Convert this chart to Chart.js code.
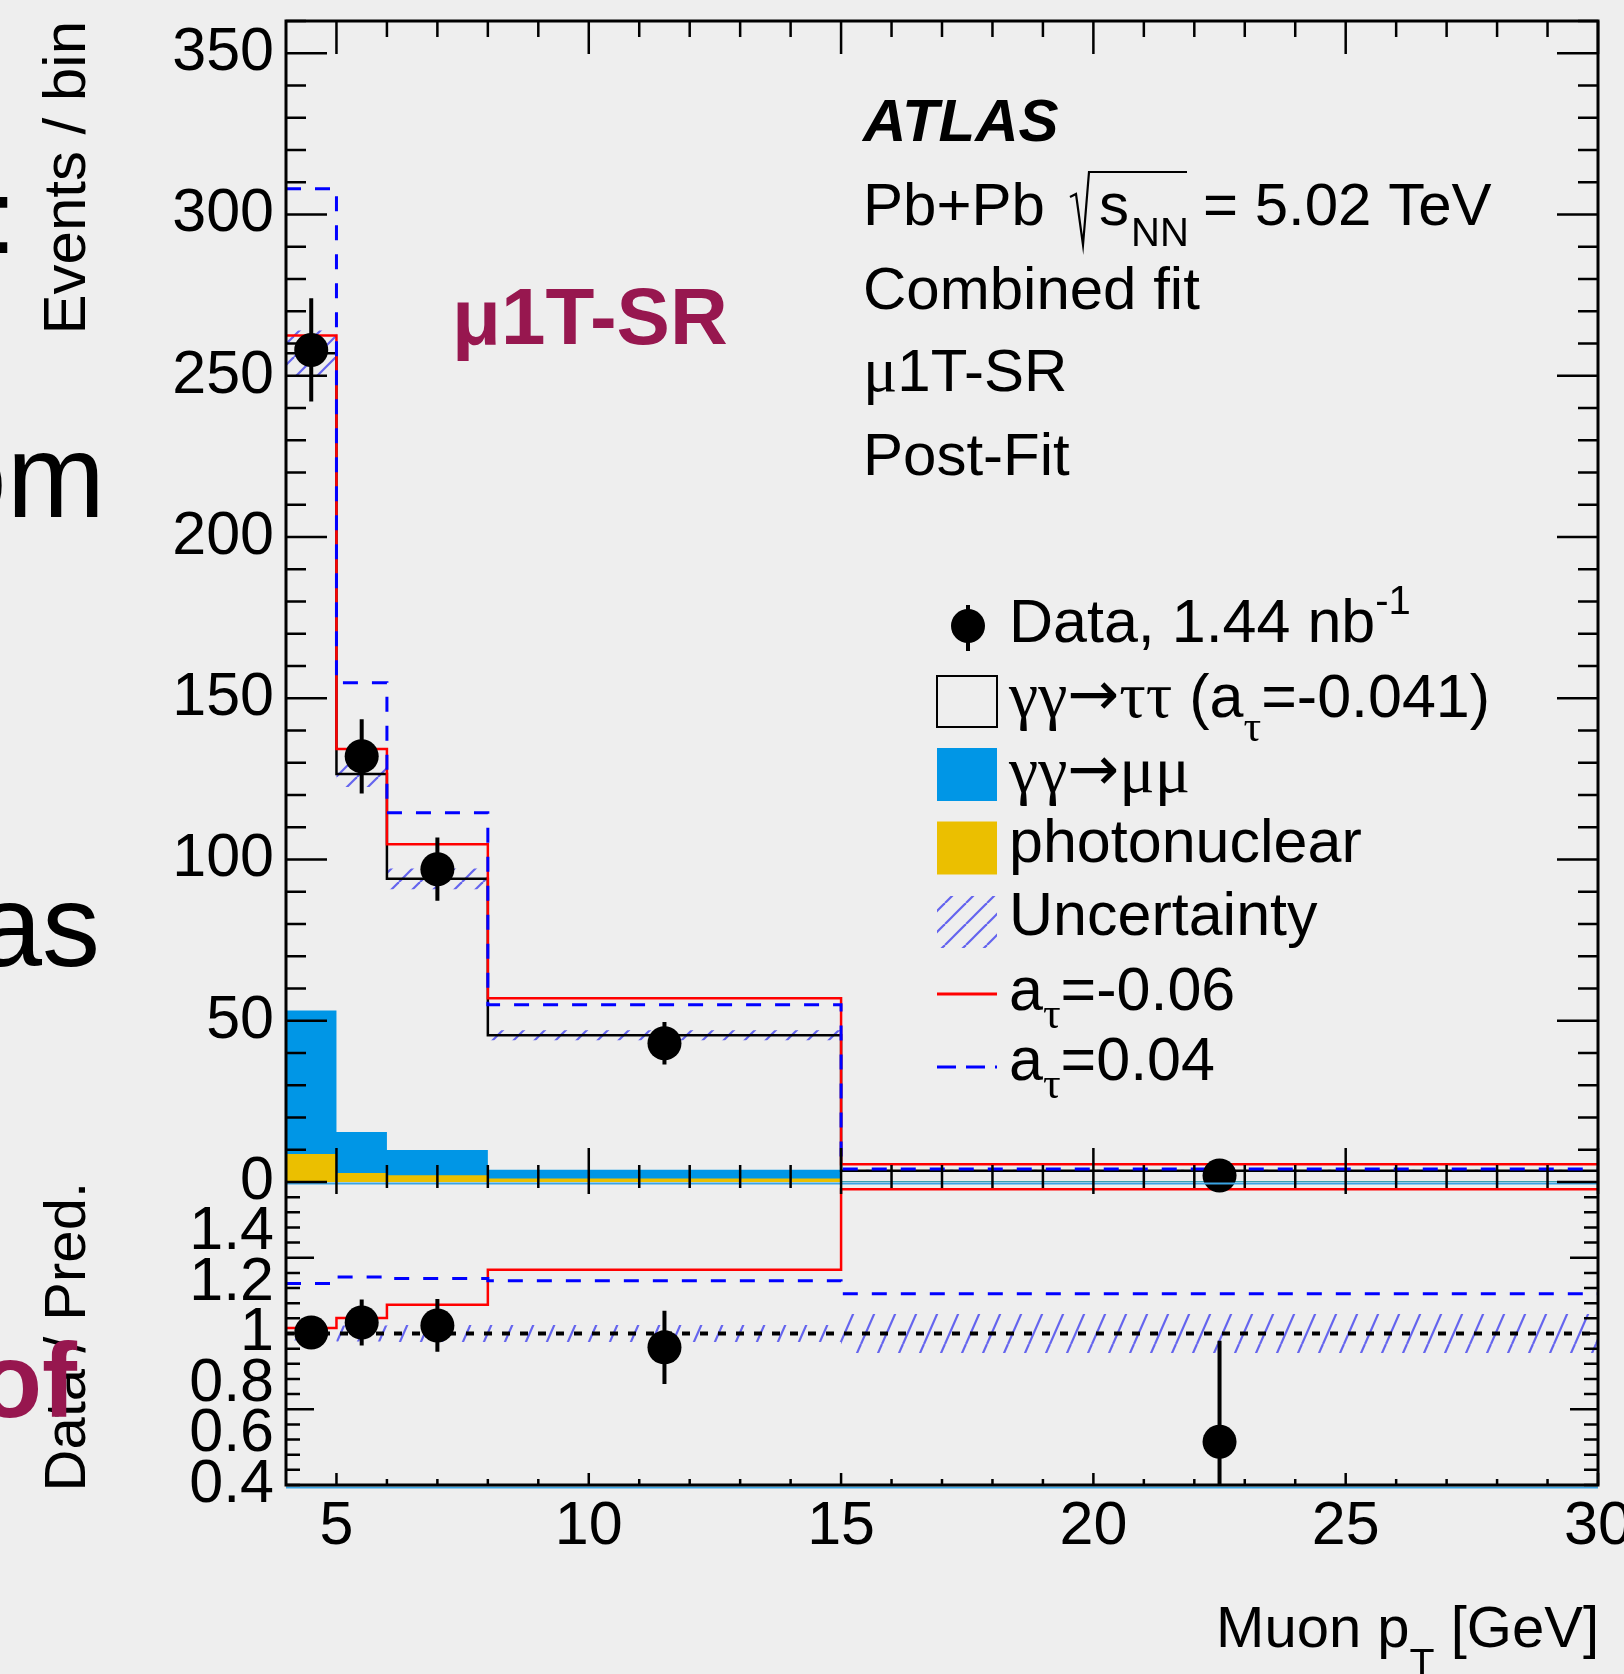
<!DOCTYPE html>
<html>
<head>
<meta charset="utf-8">
<script src="https://cdn.jsdelivr.net/npm/chart.js@4.4.0/dist/chart.umd.min.js"></script>
<style>
  html, body { margin: 0; padding: 0; background: #eeeeee; }
  #wrap { position: relative; width: 1624px; height: 1674px; overflow: hidden; }
  canvas { display: block; }
</style>
</head>
<body>
<div id="wrap"><canvas id="chart" width="1624" height="1674"></canvas></div>
<script>
// bins in muon pT [GeV]
const binEdges = [4, 5, 6, 8, 15, 30];
const dataCounts = [258, 132, 97, 43, 2];
const dataErrors = [16, 11.5, 9.8, 6.6, 1.4];
// total post-fit prediction (gg->tautau with a_tau=-0.041 stacked on backgrounds)
const predTotal = [257, 126.5, 94, 45.5, 3.5];
const predUnc = [7, 4, 3.2, 1.55, 0.27];
const mumu = [44.5, 12.7, 7.8, 2.7, 0.2];
const photonuclear = [8.7, 2.8, 2.1, 1.1, 0.1];
const aTauNeg = [262.5, 134.3, 104.7, 57.0, 5.5]; // a_tau = -0.06
const aTauPos = [308, 154.8, 114.5, 55.0, 4.05];  // a_tau = 0.04
const xTicks = [5, 10, 15, 20, 25, 30];
const yTicks = [0, 50, 100, 150, 200, 250, 300, 350];
const ratioTicks = [0.4, 0.6, 0.8, 1, 1.2, 1.4];

const SANS = '"Liberation Sans", Arial, Helvetica, sans-serif';
const SERIF = '"Liberation Serif", "DejaVu Serif", serif';
const ARROW = '"DejaVu Sans", sans-serif';
const HATCH = '#6464ee';

const step = (vals) => binEdges.map((e, i) => ({ x: e, y: vals[Math.min(i, vals.length - 1)] }));
const centers = binEdges.slice(0, -1).map((e, i) => (e + binEdges[i + 1]) / 2);
const ratio = (vals) => vals.map((v, i) => v / predTotal[i]);
const bkgSum = mumu.map((v, i) => v + photonuclear[i]);

const canvas = document.getElementById('chart');
const mainCtx = canvas.getContext('2d');

function hatch(w, h) {
  const c = document.createElement('canvas');
  c.width = w;
  c.height = h;
  const g = c.getContext('2d');
  g.strokeStyle = HATCH;
  g.lineWidth = 2.2;
  for (const off of [-w, 0, w]) {
    g.beginPath();
    g.moveTo(off, h);
    g.lineTo(off + w, 0);
    g.stroke();
  }
  return mainCtx.createPattern(c, 'repeat');
}
const hatchTop = hatch(21, 21);
const hatchRatio = hatch(21, 48);

function line(data, opts) {
  return Object.assign({ data, stepped: true, pointRadius: 0, borderWidth: 2.5, fill: false, yAxisID: 'y' }, opts);
}
const hidden = { borderColor: 'transparent', borderWidth: 0 };

const datasets = [
  line(step(bkgSum), { ...hidden, backgroundColor: '#0096e6', fill: 'origin', order: 20 }),
  line(step(photonuclear), { ...hidden, backgroundColor: '#ebbf00', fill: 'origin', order: 19 }),
  line(step(predTotal.map((v, i) => v + predUnc[i])), { ...hidden, order: 15 }),
  line(step(predTotal.map((v, i) => v - predUnc[i])), { ...hidden, backgroundColor: hatchTop, fill: '-1', order: 14 }),
  line(step(predTotal), { borderColor: '#000000', order: 10 }),
  line(step(aTauNeg), { borderColor: '#ff0000', order: 9 }),
  line(step(aTauPos), { borderColor: '#0000ff', borderWidth: 3, borderDash: [15, 14], order: 8 }),
  {
    data: centers.map((x, i) => ({ x, y: dataCounts[i] })), yAxisID: 'y', showLine: false, clip: false,
    pointRadius: 17, pointBackgroundColor: '#000', pointBorderWidth: 0, order: 0,
  },
  // ratio pad
  line(step(predUnc.map((u, i) => 1 + u / predTotal[i])), { ...hidden, yAxisID: 'y2', order: 15 }),
  line(step(predUnc.map((u, i) => 1 - u / predTotal[i])), { ...hidden, yAxisID: 'y2', backgroundColor: hatchRatio, fill: '-1', order: 14 }),
  line([{ x: 4, y: 1 }, { x: 30, y: 1 }], { yAxisID: 'y2', stepped: false, borderColor: '#000', borderWidth: 4, borderDash: [8, 10], order: 7 }),
  line(step(ratio(aTauNeg)), { yAxisID: 'y2', borderColor: '#ff0000', order: 6 }),
  line(step(ratio(aTauPos)), { yAxisID: 'y2', borderColor: '#0000ff', borderWidth: 3, borderDash: [15, 14], order: 5 }),
  {
    data: centers.map((x, i) => ({ x, y: dataCounts[i] / predTotal[i] })), yAxisID: 'y2', showLine: false, clip: false,
    pointRadius: 17, pointBackgroundColor: '#000', pointBorderWidth: 0, order: 0,
  },
];

function T(t, o = {}) {
  return { t, s: o.s || 61, f: o.f || SANS, dy: o.dy || 0, w: o.w || '' };
}
function G(t, o = {}) {
  return T(t, Object.assign({ f: SERIF, s: 66 }, o));
}
const ARR = () => T('→', { f: ARROW, s: 62, dy: -2 });
function runs(ctx, x, y, parts, align) {
  const fontOf = (p) => `${p.w} ${p.s}px ${p.f}`;
  let w = 0;
  for (const p of parts) {
    ctx.font = fontOf(p);
    w += ctx.measureText(p.t).width;
  }
  let cx = align === 'right' ? x - w : x;
  ctx.textAlign = 'left';
  ctx.textBaseline = 'alphabetic';
  for (const p of parts) {
    ctx.font = fontOf(p);
    ctx.fillText(p.t, cx, y + p.dy);
    cx += ctx.measureText(p.t).width;
  }
}

const rootPad = {
  id: 'rootPad',
  afterDatasetsDraw(chart) {
    const { ctx, chartArea: a, scales } = chart;
    const { x, y, y2 } = scales;
    ctx.save();
    ctx.strokeStyle = '#000';
    ctx.lineWidth = 4;
    // error bars on data points
    ctx.beginPath();
    centers.forEach((c, i) => {
      const px = x.getPixelForValue(c);
      ctx.moveTo(px, y.getPixelForValue(dataCounts[i] + dataErrors[i]));
      ctx.lineTo(px, y.getPixelForValue(dataCounts[i] - dataErrors[i]));
    });
    ctx.stroke();
    ctx.save();
    ctx.beginPath();
    ctx.rect(a.left, y2.top, a.right - a.left, y2.bottom - y2.top);
    ctx.clip();
    ctx.beginPath();
    centers.forEach((c, i) => {
      const px = x.getPixelForValue(c);
      ctx.moveTo(px, y2.getPixelForValue((dataCounts[i] + dataErrors[i]) / predTotal[i]));
      ctx.lineTo(px, y2.getPixelForValue((dataCounts[i] - dataErrors[i]) / predTotal[i]));
    });
    ctx.stroke();
    ctx.restore();

    // light blue baselines
    ctx.strokeStyle = '#3aa4e4';
    ctx.lineWidth = 2;
    ctx.beginPath();
    ctx.moveTo(a.left, y.bottom + 1.5);
    ctx.lineTo(a.right, y.bottom + 1.5);
    ctx.moveTo(a.left, y2.bottom + 2.5);
    ctx.lineTo(a.right, y2.bottom + 2.5);
    ctx.stroke();

    // frame
    ctx.strokeStyle = '#000';
    ctx.lineWidth = 3;
    ctx.beginPath();
    ctx.moveTo(a.left, a.top);
    ctx.lineTo(a.right, a.top);
    ctx.lineTo(a.right, a.bottom);
    ctx.lineTo(a.left, a.bottom);
    ctx.closePath();
    ctx.stroke();

    // inward ticks
    ctx.lineWidth = 2.5;
    ctx.beginPath();
    const yTick = (scale, v, len) => {
      const p = scale.getPixelForValue(v);
      ctx.moveTo(a.left, p); ctx.lineTo(a.left + len, p);
      ctx.moveTo(a.right, p); ctx.lineTo(a.right - len, p);
    };
    for (let v = 0; v <= 360; v += 10) yTick(y, v, v % 50 === 0 ? 41 : 20);
    for (let k = 0; k <= 20; k++) {
      const v = 0.4 + 0.06 * k;
      yTick(y2, v, (k === 5 || k === 15) ? 28 : 14);
    }
    for (let v = 5; v <= 30; v += 1) {
      const p = x.getPixelForValue(v);
      const major = v % 5 === 0;
      ctx.moveTo(p, y.top); ctx.lineTo(p, y.top + (major ? 33 : 16));
      ctx.moveTo(p, y.bottom); ctx.lineTo(p, y.bottom - (major ? 34 : 17));
      ctx.moveTo(p, y2.top); ctx.lineTo(p, y2.top + (major ? 12 : 6));
      ctx.moveTo(p, y2.bottom); ctx.lineTo(p, y2.bottom - (major ? 12 : 6));
    }
    ctx.stroke();
    ctx.restore();
  },
  afterDraw(chart) {
    const { ctx, chartArea: a, scales: { y, y2 } } = chart;
    ctx.save();
    ctx.fillStyle = '#000';

    // axis titles
    ctx.save();
    ctx.translate(85, y.top);
    ctx.rotate(-Math.PI / 2);
    runs(ctx, 0, 0, [T('Events / bin', { s: 60 })], 'right');
    ctx.restore();
    ctx.save();
    ctx.translate(85, y2.top);
    ctx.rotate(-Math.PI / 2);
    runs(ctx, 0, 0, [T('Data / Pred.', { s: 58 })], 'right');
    ctx.restore();
    runs(ctx, a.right + 1, 1647, [T('Muon p', { s: 58 }), T('T', { s: 41, dy: 30 }), T(' [GeV]', { s: 58 })], 'right');

    // ATLAS label block
    runs(ctx, 863, 141, [T('ATLAS', { s: 60, w: 'italic bold' })]);
    runs(ctx, 863, 225, [T('Pb+Pb', { s: 60 })]);
    ctx.strokeStyle = '#000';
    ctx.lineWidth = 2.2;
    ctx.beginPath();
    ctx.moveTo(1070, 197);
    ctx.lineTo(1076, 194);
    ctx.lineTo(1083, 245);
    ctx.lineTo(1089, 172);
    ctx.lineTo(1187, 172);
    ctx.stroke();
    runs(ctx, 1099, 225, [T('s', { s: 60 })]);
    runs(ctx, 1131, 246, [T('NN', { s: 40 })]);
    runs(ctx, 1203, 225, [T('= 5.02 TeV', { s: 60 })]);
    runs(ctx, 863, 309, [T('Combined fit', { s: 60 })]);
    runs(ctx, 863, 391, [G('μ', { s: 64 }), T('1T-SR', { s: 60 })]);
    runs(ctx, 863, 475, [T('Post-Fit', { s: 60 })]);

    ctx.fillStyle = '#97174f';
    runs(ctx, 452, 344, [T('μ1T-SR', { s: 80, w: 'bold' })]);
    ctx.fillStyle = '#000';

    // legend
    const bx = 937, bw = 60, tx = 1009;
    const rows = [626, 701, 774, 847.5, 922, 994, 1067];
    // data
    ctx.beginPath();
    ctx.arc(bx + bw / 2 + 1, rows[0], 17, 0, Math.PI * 2);
    ctx.fill();
    ctx.lineWidth = 4;
    ctx.beginPath();
    ctx.moveTo(bx + bw / 2 + 1, rows[0] - 21);
    ctx.lineTo(bx + bw / 2 + 1, rows[0] + 25);
    ctx.stroke();
    runs(ctx, tx, rows[0] + 16, [T('Data, 1.44 nb'), T('-1', { s: 40, dy: -28 })]);
    // gg->tautau
    ctx.lineWidth = 2;
    ctx.strokeRect(bx, rows[1] - 25, bw, 51);
    runs(ctx, tx, rows[1] + 16, [G('γγ'), ARR(), G('ττ'), T(' (a'), G('τ', { s: 44, dy: 24 }), T('=-0.041)')]);
    // gg->mumu
    ctx.fillStyle = '#0096e6';
    ctx.fillRect(bx, rows[2] - 26, bw, 53);
    ctx.fillStyle = '#ebbf00';
    ctx.fillRect(bx, rows[3] - 26, bw, 53);
    ctx.fillStyle = hatchTop;
    ctx.fillRect(bx, rows[4] - 26, bw, 52);
    ctx.fillStyle = '#000';
    runs(ctx, tx, rows[2] + 18, [G('γγ'), ARR(), G('μμ')]);
    runs(ctx, tx, rows[3] + 14, [T('photonuclear')]);
    runs(ctx, tx, rows[4] + 13, [T('Uncertainty')]);
    ctx.lineWidth = 3;
    ctx.strokeStyle = '#ff0000';
    ctx.beginPath();
    ctx.moveTo(bx, rows[5]);
    ctx.lineTo(bx + bw, rows[5]);
    ctx.stroke();
    ctx.strokeStyle = '#0000ff';
    ctx.setLineDash([19, 10]);
    ctx.beginPath();
    ctx.moveTo(bx, rows[6]);
    ctx.lineTo(bx + bw, rows[6]);
    ctx.stroke();
    ctx.setLineDash([]);
    runs(ctx, tx, rows[5] + 16, [T('a'), G('τ', { s: 44, dy: 18 }), T('=-0.06')]);
    runs(ctx, tx, rows[6] + 13, [T('a'), G('τ', { s: 44, dy: 18 }), T('=0.04')]);

    // bits of the slide text behind the figure
    runs(ctx, 17, 253, [T('r:', { s: 106 })], 'right');
    runs(ctx, 105, 517, [T('om', { s: 118 })], 'right');
    runs(ctx, 100, 966, [T('as', { s: 116 })], 'right');
    ctx.fillStyle = '#97174f';
    runs(ctx, 77, 1417, [T('of', { s: 105, w: 'bold' })], 'right');
    ctx.restore();
  },
};

const tickFont = { family: SANS, size: 61 };
new Chart(canvas, {
  type: 'line',
  data: { datasets },
  options: {
    responsive: false,
    animation: false,
    events: [],
    layout: { padding: { top: 21, right: 26, left: 0, bottom: 0 } },
    plugins: { legend: { display: false }, tooltip: { enabled: false } },
    scales: {
      x: {
        type: 'linear', min: 4, max: 30,
        grid: { display: false, drawTicks: false }, border: { display: false },
        afterBuildTicks: (s) => { s.ticks = xTicks.map((v) => ({ value: v })); },
        afterFit: (s) => { s.height = 189; s.paddingLeft = 0; s.paddingRight = 0; },
        ticks: { font: tickFont, color: '#000', padding: 6, maxRotation: 0, autoSkip: false },
      },
      y2: {
        type: 'linear', position: 'left', stack: 'pads', stackWeight: 303, min: 0.4, max: 1.6,
        grid: { display: false, drawTicks: false }, border: { display: false },
        afterBuildTicks: (s) => { s.ticks = ratioTicks.map((v) => ({ value: v })); },
        afterFit: (s) => { s.width = 286; s.paddingTop = 0; s.paddingBottom = 0; },
        ticks: { font: tickFont, color: '#000', padding: 12, autoSkip: false, callback: (v) => `${+v.toFixed(2)}` },
      },
      y: {
        type: 'linear', position: 'left', stack: 'pads', stackWeight: 1161, min: 0, max: 360,
        grid: { display: false, drawTicks: false }, border: { display: false },
        afterBuildTicks: (s) => { s.ticks = yTicks.map((v) => ({ value: v })); },
        afterFit: (s) => { s.width = 286; s.paddingTop = 0; s.paddingBottom = 0; },
        ticks: { font: tickFont, color: '#000', padding: 12, autoSkip: false },
      },
    },
  },
  plugins: [rootPad],
});
</script>
</body>
</html>
